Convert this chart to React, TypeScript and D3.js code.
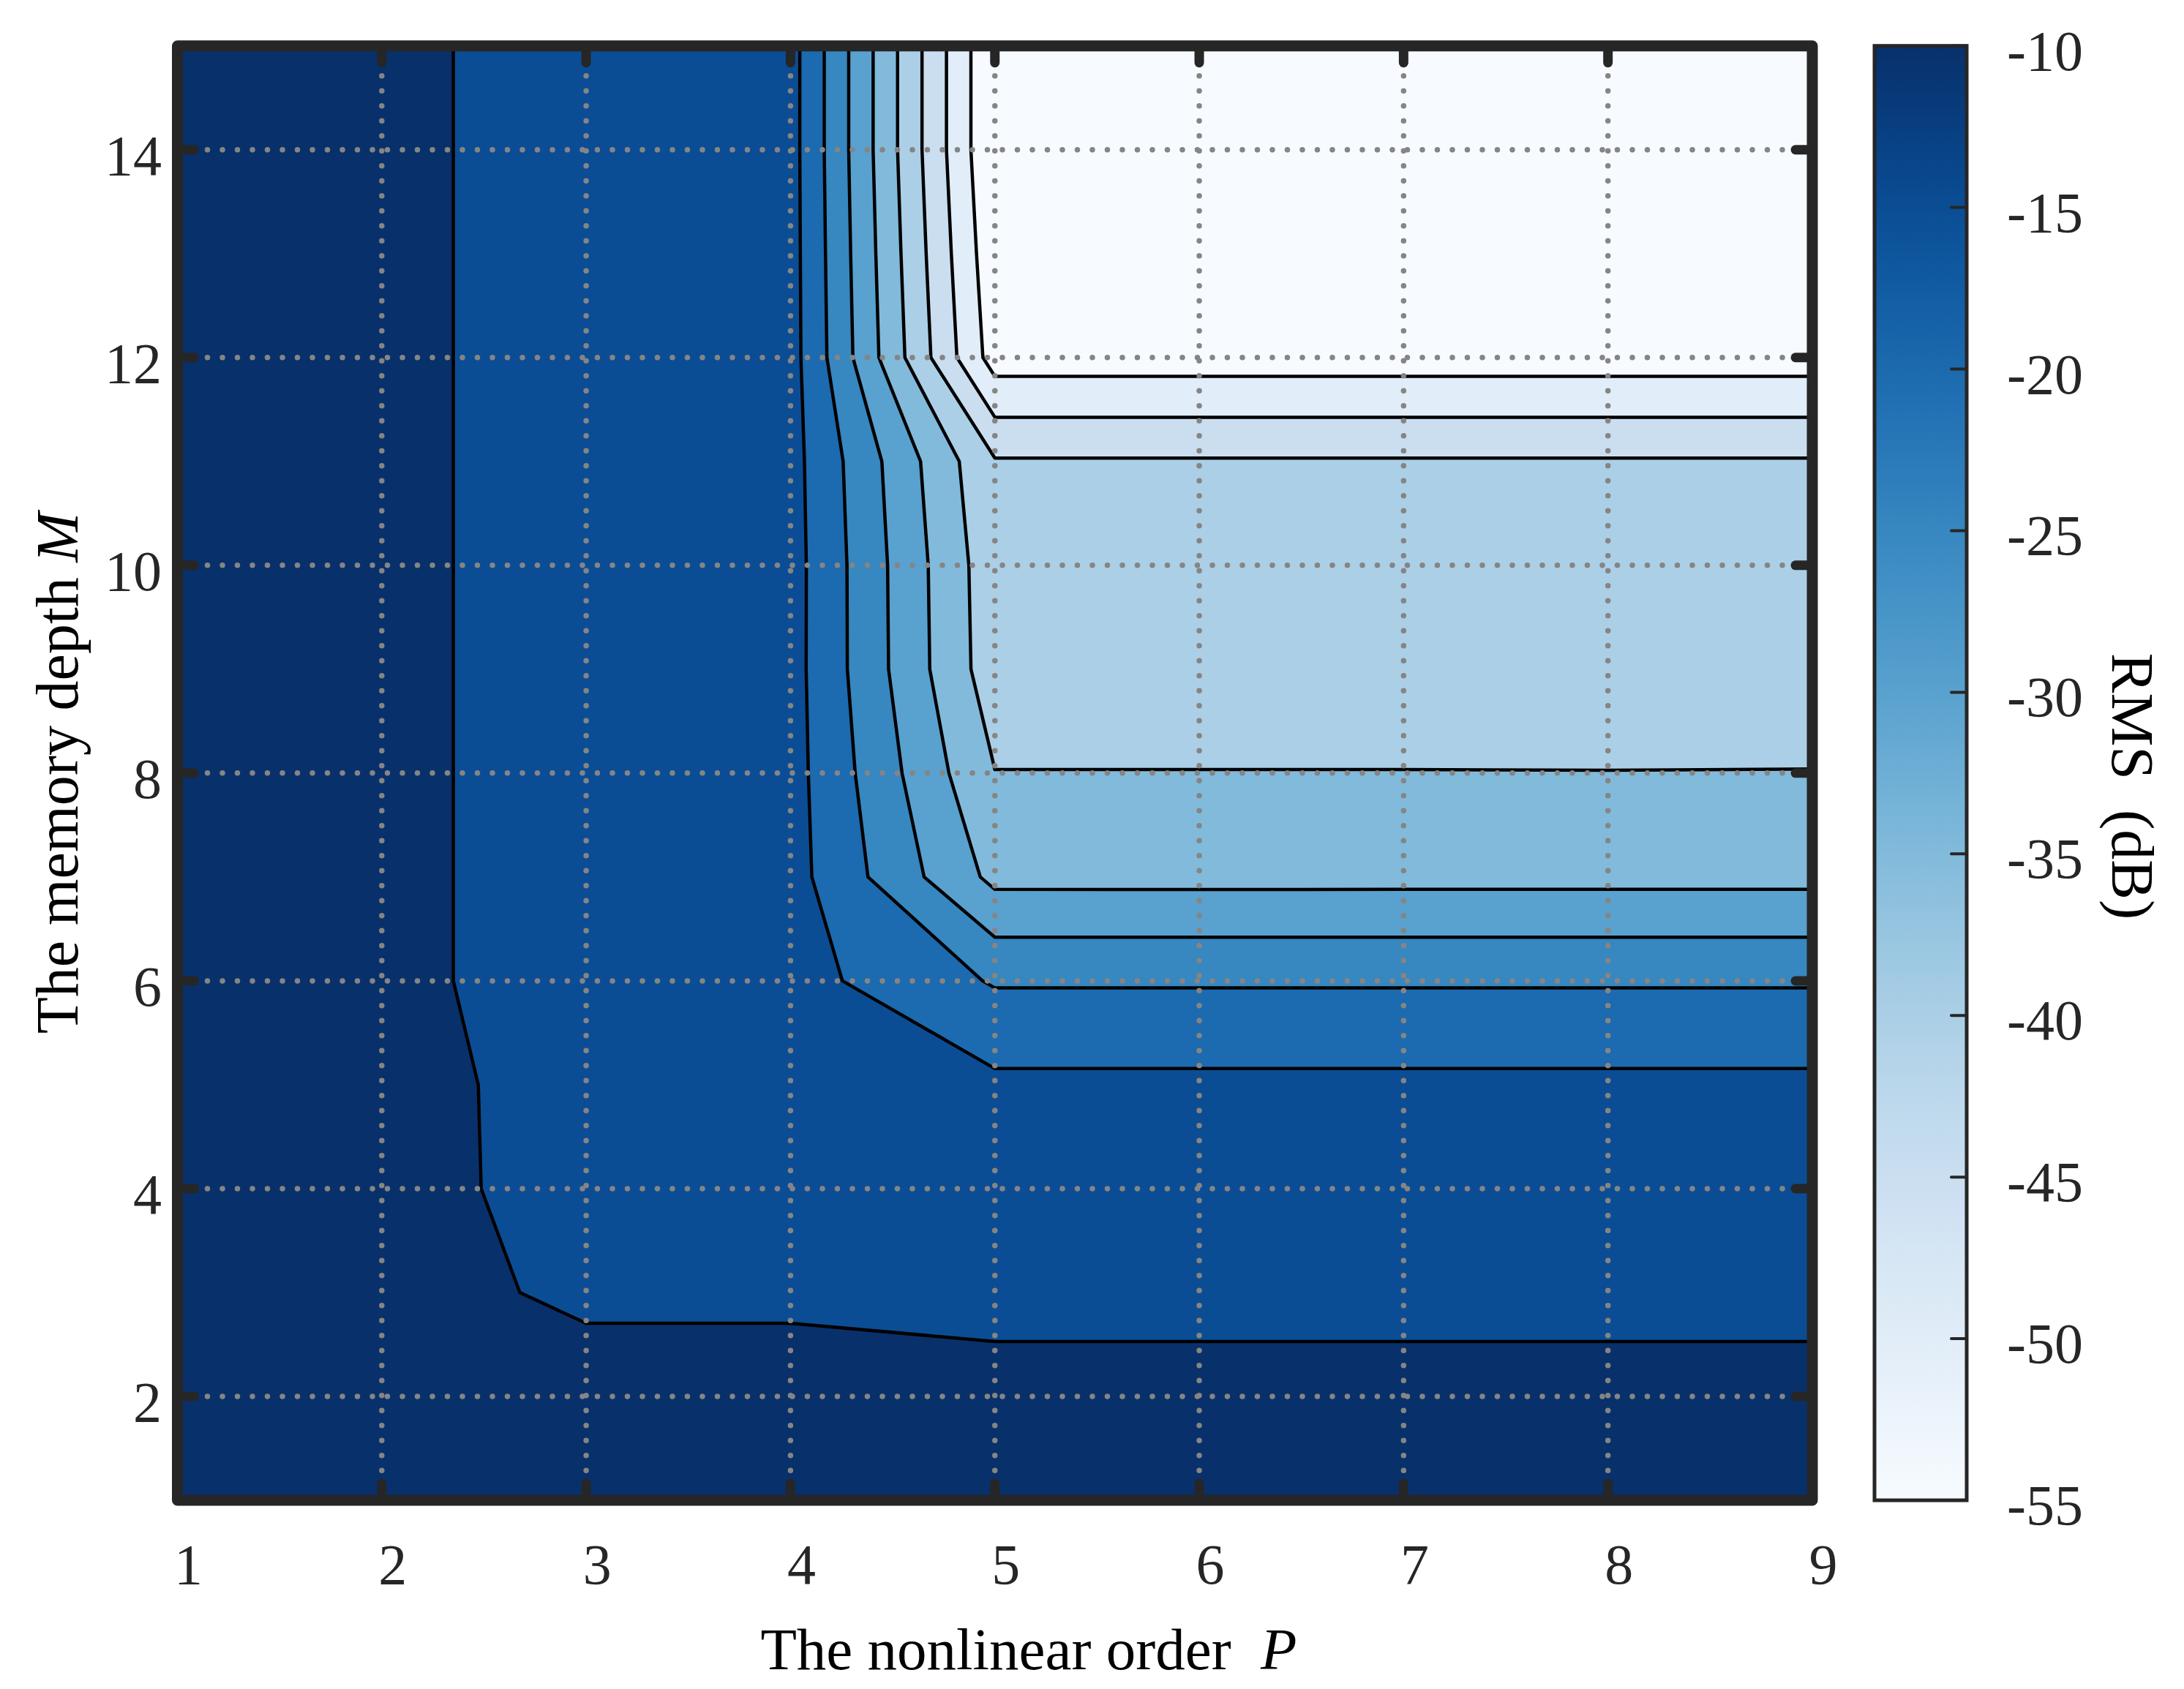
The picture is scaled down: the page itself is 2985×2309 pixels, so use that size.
import * as d3 from "d3";

// grid axes
const orders = [1, 2, 3, 4, 5, 6, 7, 8, 9];
const depths = [1, 2, 3, 4, 5, 6, 7, 8, 9, 10, 11, 12, 13, 14, 15];

// RMS (dB) for each nonlinear order P, from M = 1 up to M = 15
const rmsP1 = [-6.0, -6.6, -6.9, -7.1, -7.2, -7.3, -7.3, -7.3, -7.3, -7.3, -7.3, -7.3, -7.3, -7.3, -7.3];
const rmsP2 = [-6.5, -7.0, -7.5, -8.2, -8.3, -8.6, -8.6, -8.6, -8.6, -8.6, -8.6, -8.6, -8.6, -8.6, -8.6];
const rmsP3 = [-6.8, -7.15, -11.2, -11.9, -11.9, -12.6, -12.6, -12.6, -12.6, -12.6, -12.6, -12.6, -12.6, -12.6, -12.6];
const rmsP4 = [-6.8, -7.15, -11.2, -12.2, -12.8, -13.15, -13.1, -13.1, -13.1, -13.05, -13.2, -13.0, -13.05, -13.1, -13.1];
const rmsP5 = [-7.0, -8.32, -11.5, -13.0, -14.0, -20.44, -31.3, -34.9, -37.9, -38.2, -39.6, -52.3, -53.65, -54.9, -54.9];
const rmsP6 = [-7.0, -8.32, -11.5, -13.0, -14.0, -20.44, -31.32, -34.9, -37.9, -38.2, -39.6, -52.3, -53.65, -54.9, -54.9];
const rmsP7 = [-7.0, -8.32, -11.5, -13.0, -14.0, -20.44, -31.3, -34.9, -37.9, -38.2, -39.6, -52.3, -53.65, -54.9, -54.9];
const rmsP8 = [-7.0, -8.32, -11.5, -13.0, -14.0, -20.44, -31.3, -34.92, -37.9, -38.2, -39.6, -52.3, -53.65, -54.9, -54.9];
const rmsP9 = [-7.0, -8.32, -11.5, -13.0, -14.0, -20.44, -31.3, -34.88, -37.9, -38.2, -39.6, -52.3, -53.65, -54.9, -54.9];

const levels = [-50, -45, -40, -35, -30, -25, -20, -15, -10];
const xTicks = [1, 2, 3, 4, 5, 6, 7, 8, 9];
const yTicks = [2, 4, 6, 8, 10, 12, 14];
const cbTicks = [-10, -15, -20, -25, -30, -35, -40, -45, -50, -55];

const W = 2985;
const H = 2309;
const plot = { left: 242.5, right: 2477, top: 62.7, bottom: 2051 };
const cb = { left: 2562, right: 2688 };
const FONT = "'Liberation Serif', 'Times New Roman', serif";
const INK = "#262626";

const App = () => {
  const x = d3.scaleLinear().domain([1, 9]).range([plot.left, plot.right]);
  const y = d3.scaleLinear().domain([1, 15]).range([plot.bottom, plot.top]);
  const c = d3.scaleLinear().domain([-55, -10]).range([plot.bottom, plot.top]);
  const color = (v: number) => d3.interpolateBlues((v + 55) / 45);

  const columns = [rmsP1, rmsP2, rmsP3, rmsP4, rmsP5, rmsP6, rmsP7, rmsP8, rmsP9];
  const values = depths.flatMap((_, j) => columns.map((col) => col[j]));

  const bands = d3
    .contours()
    .size([orders.length, depths.length])
    .thresholds(levels)(values);

  // grid cell i sits at contour coordinate i + 0.5
  const path = d3.geoPath(
    d3.geoTransform({
      point(px: number, py: number) {
        // @ts-ignore
        this.stream.point(x(orders[0] + px - 0.5), y(depths[0] + py - 0.5));
      },
    })
  );

  const gradStops = d3.range(0, 41).map((k) => k / 40);

  return (
    <svg
      width={W}
      height={H}
      style={{ position: "absolute", left: 0, top: 0, background: "#fff" }}
      fontFamily={FONT}
    >
      <defs>
        <clipPath id="plot-clip">
          <rect
            x={plot.left}
            y={plot.top}
            width={plot.right - plot.left}
            height={plot.bottom - plot.top}
          />
        </clipPath>
        <linearGradient id="cb-grad" x1="0" y1="0" x2="0" y2="1">
          {gradStops.map((t) => (
            <stop key={t} offset={t} stopColor={d3.interpolateBlues(1 - t)} />
          ))}
        </linearGradient>
      </defs>

      <g clipPath="url(#plot-clip)">
        <rect
          x={plot.left}
          y={plot.top}
          width={plot.right - plot.left}
          height={plot.bottom - plot.top}
          fill={color(-55)}
        />
        {bands.map((b) => (
          <path key={"f" + b.value} d={path(b) || ""} fill={color(b.value)} stroke="none" />
        ))}
        {bands.map((b) => (
          <path
            key={"s" + b.value}
            d={path(b) || ""}
            fill="none"
            stroke="#000"
            strokeWidth={4.5}
            strokeLinejoin="round"
          />
        ))}

        {/* dotted grid */}
        {xTicks.slice(1, -1).map((p) => (
          <line
            key={"gx" + p}
            x1={x(p)}
            x2={x(p)}
            y1={plot.top}
            y2={plot.bottom}
            stroke="#858585"
            strokeWidth={7.5}
            strokeLinecap="round"
            strokeDasharray="0 20.5"
          />
        ))}
        {yTicks.map((m) => (
          <line
            key={"gy" + m}
            x1={plot.left}
            x2={plot.right}
            y1={y(m)}
            y2={y(m)}
            stroke="#858585"
            strokeWidth={7.5}
            strokeLinecap="round"
            strokeDasharray="0 20.5"
          />
        ))}
      </g>

      {/* inward ticks */}
      <g stroke={INK} strokeWidth={13} strokeLinecap="round">
        {xTicks.map((p) => (
          <g key={"tx" + p}>
            <line x1={x(p)} x2={x(p)} y1={plot.bottom} y2={plot.bottom - 23} />
            <line x1={x(p)} x2={x(p)} y1={plot.top} y2={plot.top + 23} />
          </g>
        ))}
        {yTicks.map((m) => (
          <g key={"ty" + m}>
            <line x1={plot.left} x2={plot.left + 23} y1={y(m)} y2={y(m)} />
            <line x1={plot.right} x2={plot.right - 23} y1={y(m)} y2={y(m)} />
          </g>
        ))}
      </g>

      <rect
        x={plot.left}
        y={plot.top}
        width={plot.right - plot.left}
        height={plot.bottom - plot.top}
        fill="none"
        stroke={INK}
        strokeWidth={15}
        strokeLinejoin="round"
      />

      {/* tick labels */}
      {xTicks.map((p) => (
        <text
          key={"lx" + p}
          x={x(p) + 15}
          y={2165}
          textAnchor="middle"
          fontSize={78}
          fill={INK}
        >
          {p}
        </text>
      ))}
      {yTicks.map((m) => (
        <text
          key={"ly" + m}
          x={221}
          y={y(m) + 34}
          textAnchor="end"
          fontSize={78}
          fill={INK}
        >
          {m}
        </text>
      ))}

      {/* colorbar */}
      <rect
        x={cb.left}
        y={plot.top}
        width={cb.right - cb.left}
        height={plot.bottom - plot.top}
        fill="url(#cb-grad)"
        stroke={INK}
        strokeWidth={5}
      />
      <g stroke={INK} strokeWidth={4} strokeLinecap="round">
        {cbTicks.map((v) => (
          <line key={"ct" + v} x1={cb.right} x2={cb.right - 21} y1={c(v)} y2={c(v)} />
        ))}
      </g>
      {cbTicks.map((v) => (
        <text key={"cl" + v} x={2743} y={c(v) + 33} fontSize={78} fill={INK}>
          {v}
        </text>
      ))}

      {/* axis titles */}
      <text
        x={1406}
        y={2282}
        textAnchor="middle"
        fontSize={81}
        fill="#000"
        xmlSpace="preserve"
        style={{ whiteSpace: "pre" }}
      >
        {"The nonlinear order  "}
        <tspan fontStyle="italic">P</tspan>
      </text>
      <text
        transform={`translate(106,${(plot.top + plot.bottom) / 2}) rotate(-90)`}
        textAnchor="middle"
        fontSize={82}
        fill="#000"
        xmlSpace="preserve"
        style={{ whiteSpace: "pre" }}
      >
        {"The memory depth "}
        <tspan fontStyle="italic">M</tspan>
      </text>
      <text
        transform={`translate(2887,1075) rotate(90)`}
        textAnchor="middle"
        fontSize={82}
        fill="#000"
        xmlSpace="preserve"
        style={{ whiteSpace: "pre" }}
      >
        {"RMS  (dB)"}
      </text>
    </svg>
  );
};

export default App;
